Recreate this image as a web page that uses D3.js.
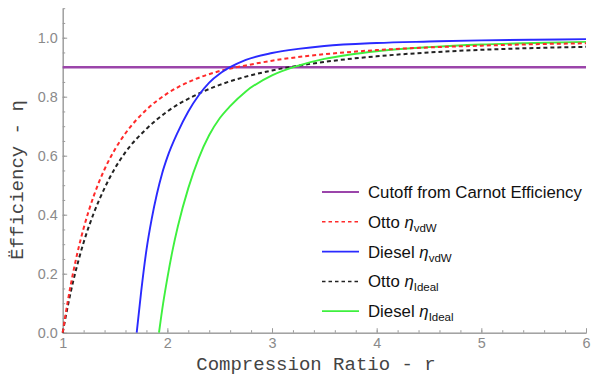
<!DOCTYPE html>
<html>
<head>
<meta charset="utf-8">
<script src="https://cdn.jsdelivr.net/npm/d3@7"></script>
<style>
  html, body { margin: 0; padding: 0; background: #fff; }
  svg { display: block; }
</style>
</head>
<body>
<svg id="chart" width="596" height="376"></svg>
<script>
// Compression ratios and efficiencies for each cycle
const rOtto = [1, 1.05, 1.1, 1.15, 1.2, 1.3, 1.4, 1.5, 1.6, 1.8, 2.0, 2.25, 2.5, 2.75, 3, 3.5, 4, 4.5, 5, 5.5, 6];
const ottoVdw = [0, 0.11, 0.204, 0.285, 0.354, 0.467, 0.554, 0.622, 0.676, 0.756, 0.811, 0.857, 0.887, 0.906, 0.922, 0.944, 0.958, 0.967, 0.973, 0.978, 0.981];
const ottoIdeal = [0, 0.093, 0.174, 0.244, 0.306, 0.408, 0.49, 0.558, 0.612, 0.691, 0.75, 0.802, 0.84, 0.868, 0.889, 0.918, 0.937, 0.95, 0.959, 0.965, 0.969];

const rDieselVdw = [1.707, 1.75, 1.8, 1.85, 1.9, 1.95, 2.0, 2.1, 2.2, 2.3, 2.4, 2.5, 2.6, 2.75, 3.0, 3.25, 3.5, 4, 4.5, 5, 5.5, 6];
const dieselVdw = [0, 0.14, 0.28, 0.385, 0.47, 0.54, 0.595, 0.68, 0.75, 0.805, 0.848, 0.878, 0.9, 0.925, 0.948, 0.962, 0.972, 0.982, 0.987, 0.991, 0.993, 0.995];

const rDieselIdeal = [1.92, 1.96, 2.0, 2.05, 2.1, 2.2, 2.3, 2.4, 2.5, 2.6, 2.75, 3.0, 3.25, 3.5, 3.75, 4, 4.5, 5, 5.5, 6];
const dieselIdeal = [0, 0.10, 0.185, 0.28, 0.36, 0.49, 0.592, 0.67, 0.727, 0.768, 0.818, 0.872, 0.905, 0.928, 0.943, 0.954, 0.968, 0.977, 0.982, 0.986];

const carnotCutoff = 0.9;
const xDomain = [1, 6];
const yDomain = [0, 1.1];
const xMajorTicks = [1, 2, 3, 4, 5, 6];
const yMajorTicks = [0, 0.2, 0.4, 0.6, 0.8, 1.0];

const legendItems = [
  { name: "Cutoff from Carnot Efficiency", sub: null, color: "#9b45aa", dash: null },
  { name: "Otto ", sub: "vdW", color: "#ff2a2a", dash: "4,3" },
  { name: "Diesel ", sub: "vdW", color: "#2a2aff", dash: null },
  { name: "Otto ", sub: "Ideal", color: "#222222", dash: "4,3" },
  { name: "Diesel ", sub: "Ideal", color: "#3ef03e", dash: null }
];

const svg = d3.select("#chart");
const x = d3.scaleLinear().domain(xDomain).range([62.7, 586]);
const y = d3.scaleLinear().domain(yDomain).range([332.7, 8.2]);

const axisColor = "#9a9a9a";
const labelColor = "#8a8a8a";

// Minor ticks
const xMinor = d3.range(1, 6.0001, 0.2).map(v => +v.toFixed(2));
const yMinor = d3.range(0, 1.10001, 0.05).map(v => +v.toFixed(2));

const gx = svg.append("g").attr("transform", `translate(0,${y(0)})`);
gx.call(d3.axisBottom(x).tickValues(xMinor).tickSizeInner(-2.5).tickSizeOuter(0).tickFormat(""));
gx.append("g").call(d3.axisBottom(x).tickValues(xMajorTicks).tickSizeInner(-4.5).tickSizeOuter(0)
  .tickPadding(5.5).tickFormat(d3.format("d")));

const gy = svg.append("g").attr("transform", `translate(${x(1)},0)`);
gy.call(d3.axisLeft(y).tickValues(yMinor).tickSizeInner(-2.5).tickSizeOuter(0).tickFormat(""));
gy.append("g").call(d3.axisLeft(y).tickValues(yMajorTicks).tickSizeInner(-4.5).tickSizeOuter(0)
  .tickPadding(5).tickFormat(d3.format(".1f")));

svg.selectAll(".domain").attr("stroke", axisColor).attr("stroke-width", 1);
svg.selectAll(".tick line").attr("stroke", axisColor);
svg.selectAll(".tick text")
  .attr("fill", labelColor)
  .style("font-family", "'Liberation Sans', Arial, sans-serif")
  .style("font-size", "14.4px");

// Axis titles
svg.append("text")
  .attr("x", 316).attr("y", 370)
  .attr("text-anchor", "middle")
  .style("font-family", "'Liberation Mono', 'Courier New', monospace")
  .style("font-size", "19px")
  .attr("fill", "#444")
  .text("Compression Ratio - r");

svg.append("text")
  .attr("transform", "translate(23,180) rotate(-90)")
  .attr("text-anchor", "middle")
  .style("font-family", "'Liberation Mono', 'Courier New', monospace")
  .style("font-size", "19px")
  .attr("fill", "#444")
  .text("Ëfficiency - η");

// Curves
const plot = svg.append("g");
const line = d3.line().x(d => x(d[0])).y(d => y(d[1])).curve(d3.curveMonotoneX);

plot.append("path")
  .attr("d", line([[xDomain[0], carnotCutoff], [xDomain[1], carnotCutoff]]))
  .attr("fill", "none").attr("stroke", legendItems[0].color).attr("stroke-width", 2.4);

const series = [
  { r: rOtto, v: ottoIdeal, item: legendItems[3] },
  { r: rDieselIdeal, v: dieselIdeal, item: legendItems[4] },
  { r: rOtto, v: ottoVdw, item: legendItems[1] },
  { r: rDieselVdw, v: dieselVdw, item: legendItems[2] }
];
series.forEach(s => {
  plot.append("path")
    .attr("d", line(s.r.map((r, i) => [r, s.v[i]])))
    .attr("fill", "none")
    .attr("stroke", s.item.color)
    .attr("stroke-width", s.item.dash ? 2 : 1.9)
    .attr("stroke-dasharray", s.item.dash);
});

// Legend
const legend = svg.append("g").attr("transform", "translate(322,192)");
legendItems.forEach((it, i) => {
  const g = legend.append("g").attr("transform", `translate(0,${i * 29.8})`);
  g.append("line").attr("x1", 0).attr("x2", 37).attr("y1", 0).attr("y2", 0)
    .attr("stroke", it.color).attr("stroke-width", it.dash ? 1.5 : 1.8)
    .attr("stroke-dasharray", it.dash ? "3.5,3" : null);
  const t = g.append("text").attr("x", 46).attr("y", 6)
    .style("font-family", "'Liberation Sans', Arial, sans-serif")
    .style("font-size", "16.8px").attr("fill", "#111");
  t.append("tspan").text(it.name);
  if (it.sub) {
    t.append("tspan").style("font-style", "italic").text("η");
    t.append("tspan").attr("dy", 4).style("font-size", "11.5px").text(it.sub);
  }
});
</script>
</body>
</html>
